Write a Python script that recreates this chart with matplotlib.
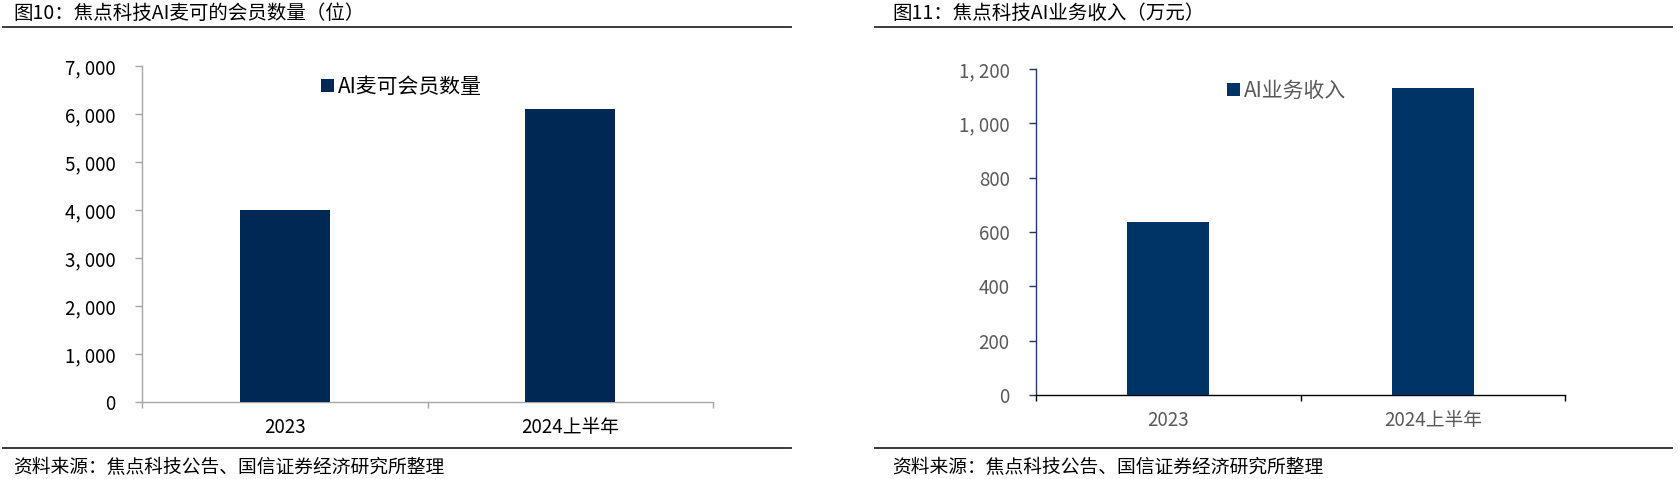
import matplotlib
matplotlib.use("Agg")
import matplotlib.pyplot as plt
from matplotlib.lines import Line2D
from matplotlib.ticker import FuncFormatter, FixedLocator

# ---------------- data ----------------
categories = ["2023", "2024上半年"]
members = [4000, 6100]          # AI麦可会员数量（位）
revenue = [635, 1130]           # AI业务收入（万元）
series_left = "AI麦可会员数量"
series_right = "AI业务收入"
title_left = "图10：焦点科技AI麦可的会员数量（位）"
title_right = "图11：焦点科技AI业务收入（万元）"
source_text = "资料来源：焦点科技公告、国信证券经济研究所整理"
yticks_left = [0, 1000, 2000, 3000, 4000, 5000, 6000, 7000]
yticks_right = [0, 200, 400, 600, 800, 1000, 1200]

W, H = 1680, 479
fig = plt.figure(figsize=(W / 100, H / 100), dpi=100)
fig.patch.set_facecolor("white")

FAM = ["Noto Sans CJK SC", "DejaVu Sans"]


def fx(px):
    return px / W


def fy(py):
    return 1 - py / H


def comma(v, _):
    return f"{int(v):,}".replace(",", ", ")


def make_panel(left, right, top, bottom, values, yticks, bar_color, bar_w,
               ycol, xcol, label_color, legend_label, legend_xy):
    ax = fig.add_axes([fx(left), fy(bottom), fx(right - left), (bottom - top) / H])
    x = list(range(len(categories)))
    ax.bar(x, values, width=bar_w, color=bar_color, label=legend_label, zorder=3)
    ax.set_xlim(-0.5, len(categories) - 0.5)
    ax.set_ylim(yticks[0], yticks[-1])
    ax.set_yticks(yticks)
    ax.yaxis.set_major_formatter(FuncFormatter(comma))
    ax.xaxis.set_major_locator(FixedLocator([i - 0.5 for i in range(len(categories) + 1)]))
    ax.xaxis.set_major_formatter(FuncFormatter(lambda v, p: ""))
    ax.xaxis.set_minor_locator(FixedLocator(x))
    ax.set_xticklabels(categories, minor=True)
    for s in ["top", "right"]:
        ax.spines[s].set_visible(False)
    ax.spines["left"].set_color(ycol)
    ax.spines["bottom"].set_color(xcol)
    ax.spines["left"].set_linewidth(1.0)
    ax.spines["bottom"].set_linewidth(1.0)
    ax.tick_params(axis="y", direction="out", length=5, width=1.0, color=ycol,
                   pad=14, labelsize=13.5, labelcolor=label_color)
    ax.tick_params(axis="x", which="major", direction="out", length=4, width=1.0,
                   color=xcol)
    ax.tick_params(axis="x", which="minor", length=0, pad=11, labelsize=13.5,
                   labelcolor=label_color)
    for t in ax.get_yticklabels() + ax.get_xticklabels(minor=True):
        t.set_fontfamily(FAM)
    leg = ax.legend(loc="center left", bbox_to_anchor=(fx(legend_xy[0]), fy(legend_xy[1])),
                    bbox_transform=fig.transFigure, frameon=False,
                    handlelength=0.6, handleheight=0.6, handletextpad=0.2,
                    borderpad=0, borderaxespad=0,
                    prop={"family": FAM, "size": 15})
    for t in leg.get_texts():
        t.set_color(label_color)
    return ax


make_panel(142, 713, 66, 402, members, yticks_left, "#002855", 0.315,
           "#A6A6A6", "#A6A6A6", "#000000", series_left, (321, 87))
make_panel(1036, 1565, 69, 395, revenue, yticks_right, "#003366", 0.31,
           "#1F3864", "#000000", "#595959", series_right, (1227, 91))

# header/footer rules
for (x0, x1) in [(3, 791), (875, 1672)]:
    for yy in (27, 448):
        fig.add_artist(Line2D([fx(x0), fx(x1)], [fy(yy), fy(yy)], color="#3A3A3A",
                              linewidth=1.4, transform=fig.transFigure))

for xx, ttl in [(13, title_left), (892, title_right)]:
    fig.text(fx(xx), fy(13), ttl, family=FAM, fontsize=14, fontweight="medium",
             va="center", ha="left", color="#000000")
    fig.text(fx(xx), fy(468), source_text, family=FAM, fontsize=13.5,
             va="center", ha="left", color="#000000")

fig.savefig("out.png", dpi=100, facecolor="white")
